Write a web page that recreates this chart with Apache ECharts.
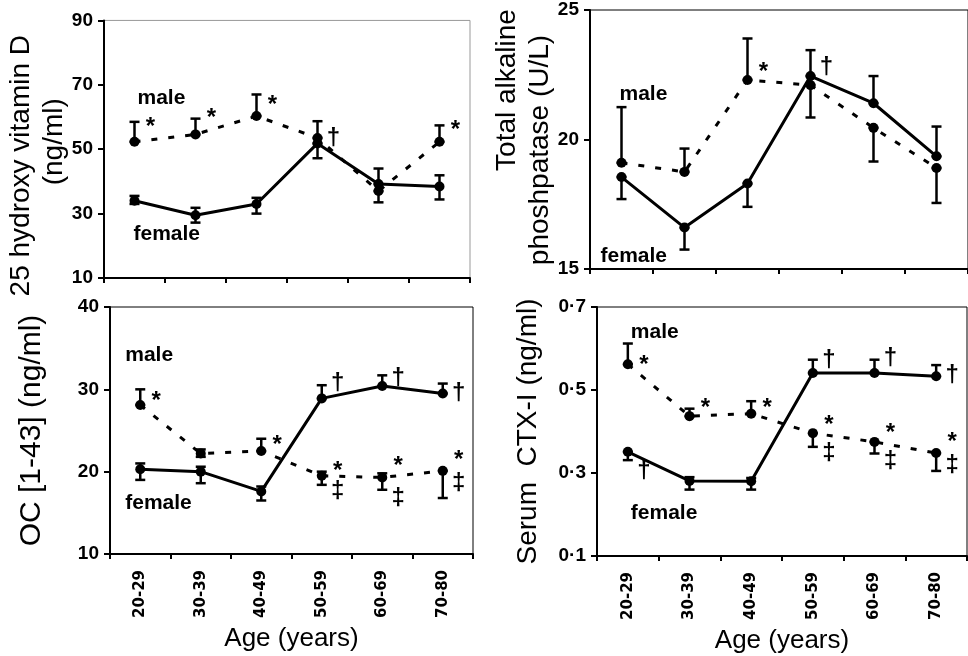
<!DOCTYPE html>
<html>
<head>
<meta charset="utf-8">
<script src="https://cdn.jsdelivr.net/npm/echarts@6/dist/echarts.min.js"></script>
<style>
html, body { margin: 0; padding: 0; background: #fff; }
#container { width: 968px; height: 656px; }
</style>
</head>
<body>
<div id="container"></div>
<script>
var ages = ['20-29', '30-39', '40-49', '50-59', '60-69', '70-80'];

// 25 hydroxy vitamin D (ng/ml)
var vitdMale = [52.3, 54.6, 60.3, 53.5, 37.0, 52.3];
var vitdFemale = [34.0, 29.5, 33.0, 51.8, 39.2, 38.4];
var vitdMaleErr = [[52.3, 58.5], [54.6, 59.5], [60.3, 67.0], [53.5, 58.7], [37.0, 44.0], [52.3, 57.4]];
var vitdFemaleErr = [[33.0, 35.5], [27.2, 31.8], [30.0, 34.9], [47.2, 51.8], [33.5, 39.2], [34.4, 41.9]];
var vitdMarks = [[0, 56.9, '*'], [1, 59.5, '*'], [2, 63.6, '*'], [3, 53.3, '†'], [5, 55.9, '*']];
var vitdTicks = [10, 30, 50, 70, 90];

// total alkaline phosphatase (U/L)
var alpMale = [19.1, 18.75, 22.3, 22.1, 20.45, 18.9];
var alpFemale = [18.55, 16.6, 18.3, 22.45, 21.4, 19.35];
var alpMaleErr = [[19.1, 21.25], [18.75, 19.65], [22.3, 23.9], [20.85, 22.1], [19.15, 20.45], [17.55, 18.9]];
var alpFemaleErr = [[17.7, 18.55], [15.75, 16.6], [17.4, 18.3], [22.45, 23.45], [21.4, 22.45], [19.35, 20.5]];
var alpMarks = [[2, 22.6, '*'], [3, 22.8, '†']];
var alpTicks = [15, 20, 25];

// OC [1-43] (ng/ml)
var ocMale = [28.1, 22.2, 22.5, 19.5, 19.3, 20.1];
var ocFemale = [20.3, 20.0, 17.6, 28.9, 30.4, 29.5];
var ocMaleErr = [[28.1, 30.0], [21.8, 22.7], [22.5, 24.0], [18.4, 20.0], [17.8, 19.8], [16.8, 20.1]];
var ocFemaleErr = [[19.0, 21.0], [18.6, 20.6], [16.5, 18.2], [28.9, 30.5], [30.4, 31.7], [29.5, 30.7]];
var ocMarks = [[0, 28.5, '*'], [2, 23.2, '*'], [3, 30.7, '†'], [3, 20.0, '*'], [3, 17.6, '‡'],
               [4, 31.3, '†'], [4, 20.6, '*'], [4, 16.8, '‡'], [5, 29.5, '†'], [5, 21.4, '*'], [5, 18.6, '‡']];
var ocTicks = [10, 20, 30, 40];

// serum CTX-I (ng/ml)
var ctxMale = [0.562, 0.437, 0.443, 0.396, 0.375, 0.348];
var ctxFemale = [0.351, 0.281, 0.280, 0.541, 0.541, 0.533];
var ctxMaleErr = [[0.562, 0.612], [0.437, 0.455], [0.443, 0.473], [0.363, 0.396], [0.347, 0.375], [0.305, 0.348]];
var ctxFemaleErr = [[0.331, 0.351], [0.26, 0.29], [0.26, 0.288], [0.541, 0.573], [0.541, 0.573], [0.533, 0.56]];
var ctxMarks = [[0, 0.56, '*'], [0, 0.303, '†'], [1, 0.455, '*'], [2, 0.455, '*'], [3, 0.572, '†'], [3, 0.415, '*'],
                [3, 0.347, '‡'], [4, 0.576, '†'], [4, 0.395, '*'], [4, 0.327, '‡'], [5, 0.536, '†'], [5, 0.375, '*'], [5, 0.319, '‡']];
var ctxTicks = [0.1, 0.3, 0.5, 0.7];

var FONT = '"Liberation Sans", Arial, sans-serif';

// layout of the four panels
var panels = [
    {grid: {left: 104, right: 498, top: 17, bottom: 378}, min: 10, max: 90, ticks: vitdTicks, xLabels: false,
     name: '{a|25 hydroxy vitamin D}\n{b|(ng/ml)}', nameGap: 33, nameSize: 28, padA: [0, 33, 0, 0], padB: [0, 0, 0, 15],
     male: vitdMale, female: vitdFemale, maleErr: vitdMaleErr, femaleErr: vitdFemaleErr, marks: vitdMarks,
     maleText: 66, femaleText: 23.5, maleDx: 3, femaleDx: -1, frame: '#999'},
    {grid: {left: 590, right: 0, top: 10, bottom: 387}, min: 15, max: 25, ticks: alpTicks, xLabels: false,
     name: '{a|Total alkaline}\n{b|phoshpatase (U/L)}', nameGap: 29, nameSize: 28, padA: [0, 0, 0, 99], padB: [0, 21, 0, 0],
     male: alpMale, female: alpFemale, maleErr: alpMaleErr, femaleErr: alpFemaleErr, marks: alpMarks,
     maleText: 21.75, femaleText: 15.5, maleDx: -2, femaleDx: -21, frame: '#000'},
    {grid: {left: 110, right: 495, top: 307, bottom: 102}, min: 10, max: 40, ticks: ocTicks, xLabels: true,
     name: 'OC [1-43] (ng/ml)', nameGap: 63, nameSize: 30,
     male: ocMale, female: ocFemale, maleErr: ocMaleErr, femaleErr: ocFemaleErr, marks: ocMarks,
     maleText: 34.1, femaleText: 16.2, maleDx: -15, femaleDx: -15, frame: '#000'},
    {grid: {left: 597, right: 1, top: 307, bottom: 100}, min: 0.1, max: 0.7, ticks: ctxTicks, xLabels: true, dot: true,
     name: 'Serum  CTX-I (ng/ml)', nameGap: 55, nameSize: 28,
     male: ctxMale, female: ctxFemale, maleErr: ctxMaleErr, femaleErr: ctxFemaleErr, marks: ctxMarks,
     maleText: 0.639, femaleText: 0.204, maleDx: 3, femaleDx: 3, frame: '#000'}
];

function errRender(params, api) {
    var x = api.value(0);
    var p1 = api.coord([x, api.value(1)]);
    var p2 = api.coord([x, api.value(2)]);
    var c = 5;
    var st = {stroke: '#000', lineWidth: 2.5};
    return {type: 'group', children: [
        {type: 'line', shape: {x1: p1[0], y1: p1[1], x2: p2[0], y2: p2[1]}, style: st},
        {type: 'line', shape: {x1: p1[0] - c, y1: p1[1], x2: p1[0] + c, y2: p1[1]}, style: st},
        {type: 'line', shape: {x1: p2[0] - c, y1: p2[1], x2: p2[0] + c, y2: p2[1]}, style: st}
    ]};
}

var grids = [], xAxes = [], yAxes = [], series = [];

panels.forEach(function (p, i) {
    grids.push({left: p.grid.left, right: p.grid.right, top: p.grid.top, bottom: p.grid.bottom,
        show: true, borderColor: p.frame, borderWidth: 1, backgroundColor: 'transparent'});

    xAxes.push({
        type: 'category', gridIndex: i, data: ages, boundaryGap: true,
        axisLine: {lineStyle: {color: '#000', width: 2}},
        axisTick: {show: true, length: 5, lineStyle: {color: '#000', width: 2}},
        axisLabel: {show: p.xLabels, rotate: 90, interval: 0, margin: 16, color: '#000',
            fontFamily: '"DejaVu Sans", Verdana, sans-serif', fontWeight: 'bold', fontSize: 15},
        name: p.xLabels ? 'Age (years)' : '', nameLocation: 'middle', nameGap: 72,
        nameTextStyle: {color: '#000', fontFamily: FONT, fontSize: 26}
    });

    var rich = {
        a: {fontFamily: FONT, fontSize: p.nameSize, color: '#000', padding: p.padA || 0, lineHeight: 33},
        b: {fontFamily: FONT, fontSize: p.nameSize, color: '#000', padding: p.padB || 0, lineHeight: 33}
    };
    yAxes.push({
        type: 'value', gridIndex: i, min: p.min, max: p.max,
        splitLine: {show: false},
        axisLine: {show: true, lineStyle: {color: '#000', width: 2}},
        axisTick: {show: true, length: 6, customValues: p.ticks, lineStyle: {color: '#000', width: 2}},
        axisLabel: {customValues: p.ticks, color: '#000', fontFamily: FONT, fontWeight: 'bold', fontSize: 19, margin: 11,
            formatter: function (v) {
                return p.dot ? v.toFixed(1).replace('.', '·') : String(Math.round(v));
            }},
        name: p.name, nameLocation: 'middle', nameRotate: 90, nameGap: p.nameGap,
        nameTextStyle: {color: '#000', fontFamily: FONT, fontSize: p.nameSize, rich: rich}
    });

    series.push({
        type: 'custom', xAxisIndex: i, yAxisIndex: i, renderItem: errRender, z: 3,
        encode: {x: 0, y: [1, 2]},
        data: p.maleErr.map(function (e, k) { return [k, e[0], e[1]]; })
    });
    series.push({
        type: 'custom', xAxisIndex: i, yAxisIndex: i, renderItem: errRender, z: 3,
        encode: {x: 0, y: [1, 2]},
        data: p.femaleErr.map(function (e, k) { return [k, e[0], e[1]]; })
    });
    series.push({
        name: 'male', type: 'line', xAxisIndex: i, yAxisIndex: i, data: p.male, z: 4,
        symbol: 'circle', symbolSize: 10, itemStyle: {color: '#000'},
        lineStyle: {color: '#000', width: 3, type: [6, 11]}
    });
    series.push({
        name: 'female', type: 'line', xAxisIndex: i, yAxisIndex: i, data: p.female, z: 4,
        symbol: 'circle', symbolSize: 10, itemStyle: {color: '#000'},
        lineStyle: {color: '#000', width: 3}
    });
    // significance marks
    series.push({
        type: 'scatter', xAxisIndex: i, yAxisIndex: i, symbolSize: 0, z: 5, silent: true,
        itemStyle: {color: '#000', opacity: 1},
        data: p.marks,
        label: {show: true, position: 'inside', offset: [16, 0], align: 'center', verticalAlign: 'middle',
            formatter: function (d) { return d.data[2]; },
            color: '#000', textBorderWidth: 0, textBorderColor: 'transparent',
            fontFamily: FONT, fontWeight: 'bold', fontSize: 24}
    });
    // male / female text
    series.push({
        type: 'scatter', xAxisIndex: i, yAxisIndex: i, symbolSize: 0, z: 5, silent: true,
        itemStyle: {color: '#000', opacity: 1},
        data: [
            {value: [0, p.maleText, 'male'], label: {offset: [p.maleDx, 0]}},
            {value: [0, p.femaleText, 'female'], label: {offset: [p.femaleDx, 0]}}
        ],
        label: {show: true, position: 'inside', align: 'left', verticalAlign: 'middle',
            formatter: function (d) { return d.value[2]; },
            color: '#000', textBorderWidth: 0, textBorderColor: 'transparent',
            fontFamily: FONT, fontWeight: 'bold', fontSize: 21}
    });
});

var myChart = echarts.init(document.getElementById('container'));
var option = {
    animation: false,
    backgroundColor: '#fff',
    grid: grids,
    xAxis: xAxes,
    yAxis: yAxes,
    series: series
};
myChart.setOption(option);
</script>
</body>
</html>
